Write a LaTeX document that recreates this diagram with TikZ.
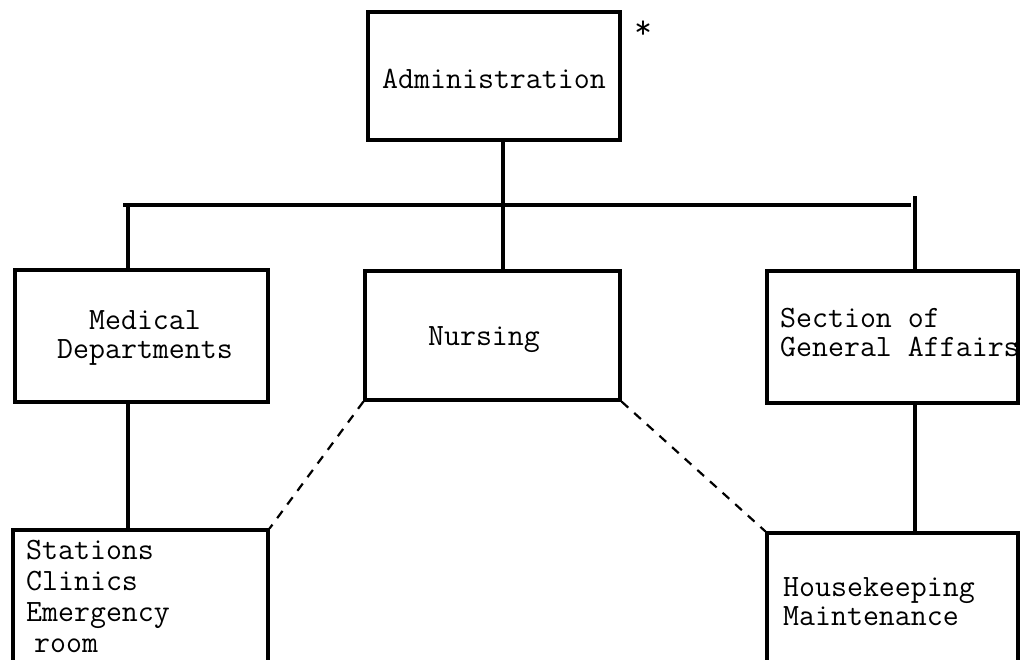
\documentclass[tikz,border=0pt]{standalone}
\usepackage{fontspec}
\begin{document}
\begin{tikzpicture}[x=1pt,y=-1pt,
  every node/.style={font=\ttfamily\addfontfeatures{FakeBold=1.4}\fontsize{31}{29}\selectfont, inner sep=0pt},
  box/.style={draw, line width=3.2pt, minimum width=#1, minimum height=132pt},
  line/.style={line width=3.2pt},
  dline/.style={line width=2.2pt, dash pattern=on 9pt off 8pt},
  lbl/.style={align=left, anchor=west}]
\useasboundingbox (0,0) rectangle (1023,659);
\clip (0,0) rectangle (1023,659);
% boxes
\node[box=252pt, minimum height=128pt] (adm) at (494,76) {};
\node[box=253pt] (med) at (141.5,336) {};
\node[box=255pt, minimum height=129pt] (nur) at (492.5,335.5) {};
\node[box=251pt] (sec) at (892.5,337) {};
\node[box=255pt, minimum height=170pt] (sta) at (140.5,615) {};
\node[box=251pt, minimum height=167pt] (hk) at (892.5,616.5) {};
% texts
\node (admt) at (494,79) {Administration};
\node[font=\ttfamily\addfontfeatures{FakeBold=2}\fontsize{34}{34}\selectfont] (ast) at (643,30) {*};
\node[align=center] (medt) at (145,338) {Medical\\Departments};
\node (nurt) at (484,340) {Nursing};
\node[lbl] (sect) at (780,333) {Section of\\General Affairs};
\node[lbl, anchor=north west, font=\ttfamily\addfontfeatures{FakeBold=1.4}\fontsize{31}{31}\selectfont] (stat) at (26,540) {Stations\\Clinics\\Emergency\\\hspace*{8pt}room};
\node[lbl] (hkt) at (783,602) {Housekeeping\\Maintenance};
% connectors
\coordinate (ja) at (503,205);
\coordinate (jm) at (128,205);
\coordinate (js) at (915,205);
\coordinate (jsTop) at (915,196);
\draw[line] (adm.south -| ja) -- (ja);
\draw[line] ([xshift=-5pt]jm) -- ([xshift=-4pt]js);
\draw[line] (jm) -- (jm |- med.north);
\draw[line] (ja) -- (ja |- nur.north);
\draw[line] (jsTop) -- (js |- sec.north);
\coordinate (lm) at (128,402);
\draw[line] (med.south -| lm) -- (lm |- sta.north);
\coordinate (ls) at (915,403);
\draw[line] (sec.south -| ls) -- (ls |- hk.north);
\draw[dline] (nur.south west) -- (sta.north east);
\draw[dline] (nur.south east) -- (hk.north west);
\end{tikzpicture}
\end{document}
